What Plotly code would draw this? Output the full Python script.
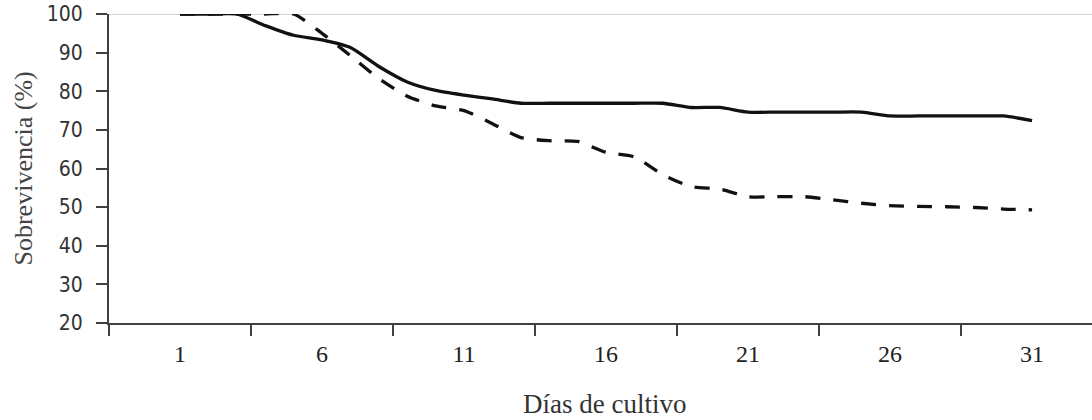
import plotly.graph_objects as go

days = list(range(1, 32))
solid = [100, 100, 100, 97.0, 94.5, 93.3, 91.3, 86.4, 82.4, 80.2, 79.0, 78.0,
         76.9, 76.9, 76.9, 76.9, 76.9, 76.9, 75.8, 75.8, 74.6, 74.6, 74.6, 74.6,
         74.6, 73.6, 73.6, 73.6, 73.6, 73.6, 72.4]
dashed = [100, 100, 100, 100, 100, 95.0, 89.2, 83.3, 78.7, 76.2, 75.0, 71.6,
          68.0, 67.2, 67.0, 64.2, 63.0, 58.4, 55.3, 54.7, 52.7, 52.7, 52.7, 51.9,
          51.0, 50.4, 50.2, 50.1, 49.9, 49.5, 49.3]
x_tick_vals = [1, 6, 11, 16, 21, 26, 31]
x_tick_text = ["1", "6", "11", "16", "21", "26", "31"]
x_boundaries = [-1.5, 3.5, 8.5, 13.5, 18.5, 23.5, 28.5]
y_ticks = [20, 30, 40, 50, 60, 70, 80, 90, 100]

AX = "#404040"
fig = go.Figure()
fig.add_trace(go.Scatter(x=days, y=solid, mode="lines",
                         line=dict(color="#111111", width=3.3, shape="spline", smoothing=0.6)))
fig.add_trace(go.Scatter(x=days, y=dashed, mode="lines",
                         line=dict(color="#111111", width=3.3, dash="15px,13px",
                                   shape="spline", smoothing=0.6)))

fig.update_layout(
    width=1092, height=420,
    margin=dict(l=109, r=0, t=14, b=97, autoexpand=False),
    paper_bgcolor="white", plot_bgcolor="white",
    showlegend=False,
    xaxis=dict(range=[-1.5, 33.11], tickmode="array", tickvals=x_tick_vals, ticktext=x_tick_text,
               ticks="", showline=True, linecolor=AX, linewidth=2, showgrid=False, zeroline=False,
               automargin=False,
               tickfont=dict(family="Liberation Serif, Times New Roman, serif", size=24, color="#222222"),
               ticklabelstandoff=8,
               minor=dict(tickmode="array", tickvals=x_boundaries, ticks="outside", ticklen=11,
                          tickwidth=2, tickcolor=AX, showgrid=False)),
    yaxis=dict(range=[20, 100.001], tickmode="array", tickvals=y_ticks, ticks="outside", ticklen=11,
               tickwidth=2, tickcolor=AX, showline=True, linecolor=AX, linewidth=2,
               showgrid=False, zeroline=False, ticklabeloverflow="allow", automargin=False,
               tickfont=dict(family="Liberation Sans Narrow, DejaVu Sans Condensed, DejaVu Sans, sans-serif",
                             size=21, color="#333333"),
               ticklabelstandoff=9),
    shapes=[dict(type="line", xref="paper", x0=0, x1=1, yref="y", y0=100, y1=100,
                 line=dict(color="#c4c4c4", width=1.5), layer="below")],
    annotations=[
        dict(text="Sobrevivencia (%)", textangle=-90, xref="paper", yref="paper",
             x=(23 - 109) / 983, y=0.5, xanchor="center", yanchor="middle", showarrow=False,
             font=dict(family="Liberation Serif, Times New Roman, serif", size=26, color="#444444")),
        dict(text="Días de cultivo", xref="paper", yref="paper",
             x=(604 - 109) / 983, y=(323 - 404) / 309, xanchor="center", yanchor="middle",
             showarrow=False,
             font=dict(family="Liberation Serif, Times New Roman, serif", size=27, color="#333333")),
    ],
)

fig.write_html("out.html", config={"displayModeBar": False},
               post_script="document.body.style.margin='0px';document.body.style.overflow='hidden';")
